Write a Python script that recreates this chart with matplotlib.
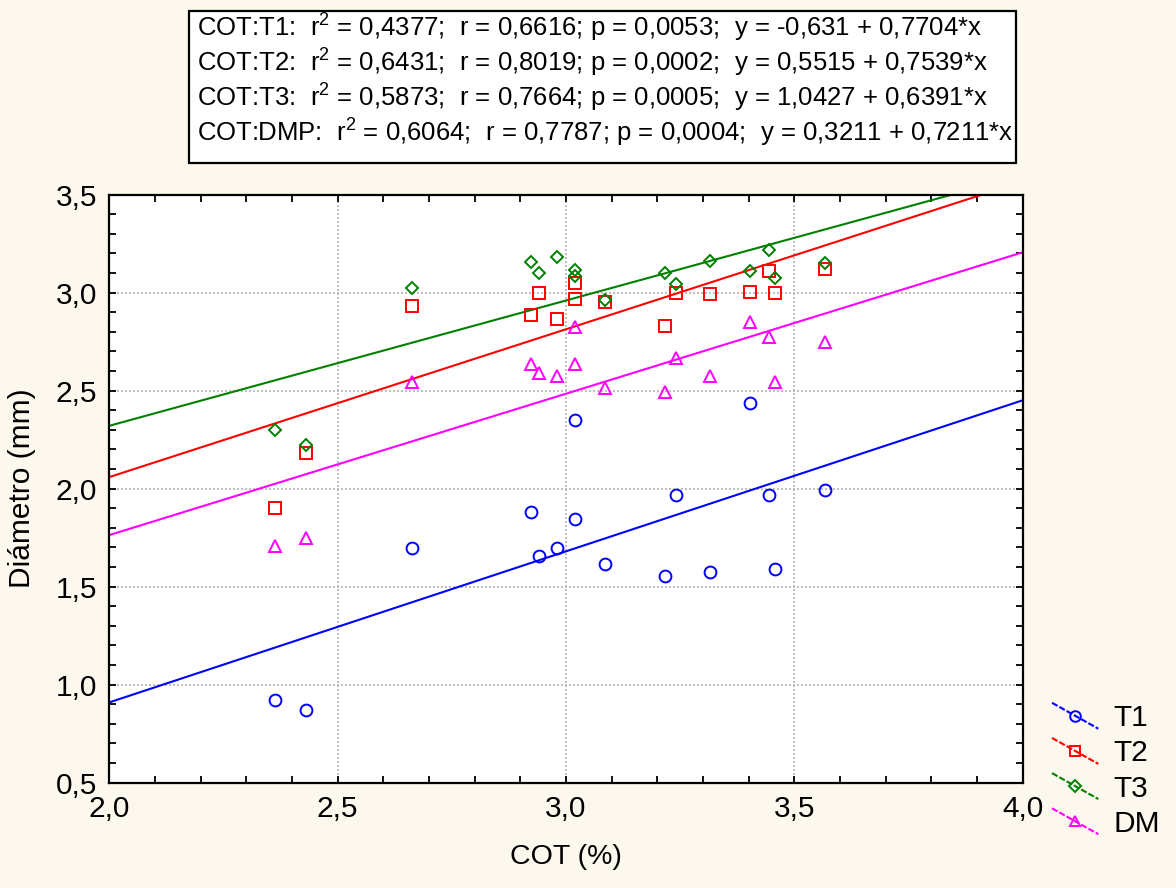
import numpy as np
import matplotlib
matplotlib.use("Agg")
import matplotlib.pyplot as plt
from matplotlib.lines import Line2D
from matplotlib.patches import Rectangle
from matplotlib.legend_handler import HandlerLine2D
from matplotlib.ticker import MultipleLocator, FuncFormatter

plt.rcParams["font.family"] = ["Liberation Sans", "DejaVu Sans"]
plt.rcParams["mathtext.fontset"] = "custom"
plt.rcParams["mathtext.rm"] = "Liberation Sans"

# --- data ---
cot = [2.362, 2.43, 2.662, 2.923, 2.942, 2.98, 3.02, 3.02,
       3.085, 3.217, 3.242, 3.315, 3.404, 3.444, 3.458, 3.567]
t1 = [0.922, 0.871, 1.696, 1.883, 1.657, 1.696, 2.35, 1.845,
      1.616, 1.555, 1.966, 1.573, 2.436, 1.966, 1.59, 1.993]
t2 = [1.90, 2.181, 2.934, 2.886, 2.997, 2.864, 3.048, 2.966,
      2.954, 2.832, 2.997, 2.992, 3.005, 3.111, 2.997, 3.119]
t3 = [2.30, 2.223, 3.025, 3.158, 3.099, 3.184, 3.116, 3.085,
      2.963, 3.10, 3.044, 3.163, 3.111, 3.218, 3.073, 3.153]
dm = [1.708, 1.747, 2.546, 2.636, 2.589, 2.575, 2.823, 2.636,
      2.512, 2.495, 2.665, 2.575, 2.849, 2.773, 2.546, 2.75]

labels = ["T1", "T2", "T3", "DM"]
intercepts = [-0.631, 0.5515, 1.0427, 0.3211]
slopes = [0.7704, 0.7539, 0.6391, 0.7211]
stats_lines = [
    r"COT:T1:  r$^{\mathrm{2}}$ = 0,4377;  r = 0,6616; p = 0,0053;  y = -0,631 + 0,7704*x",
    r"COT:T2:  r$^{\mathrm{2}}$ = 0,6431;  r = 0,8019; p = 0,0002;  y = 0,5515 + 0,7539*x",
    r"COT:T3:  r$^{\mathrm{2}}$ = 0,5873;  r = 0,7664; p = 0,0005;  y = 1,0427 + 0,6391*x",
    r"COT:DMP:  r$^{\mathrm{2}}$ = 0,6064;  r = 0,7787; p = 0,0004;  y = 0,3211 + 0,7211*x",
]

colors = ["#0000ff", "#ff0000", "#008000", "#ff00ff"]
markers = ["o", "s", "D", "^"]
msizes = [8.5, 8.5, 6.3, 8.5]
BG = "#fdf8ed"


class SlopedLine(HandlerLine2D):
    """legend handle drawn as a falling diagonal, like the original software"""
    def create_artists(self, legend, orig_handle, xdescent, ydescent,
                       width, height, fontsize, trans):
        arts = super().create_artists(legend, orig_handle, xdescent, ydescent,
                                      width, height, fontsize, trans)
        for a in arts:
            n = len(a.get_xdata())
            y0 = (height - ydescent) / 2
            a.set_ydata(y0 + np.linspace(height * 0.62, -height * 0.62, n))
        return arts


fig = plt.figure(figsize=(11.76, 8.88), dpi=100, facecolor=BG)
ax = fig.add_axes([0.0930, 0.1186, 0.7765, 0.6622])
ax.set_facecolor("white")

xl = np.array([2.0, 4.0])
handles = []
for ys, a, b, c, m, ms, lab in zip([t1, t2, t3, dm], intercepts, slopes,
                                   colors, markers, msizes, labels):
    ax.plot(xl, a + b * xl, color=c, lw=1.5, zorder=2)
    ax.plot(cot, ys, ls="none", marker=m, ms=ms, mfc="none", mec=c, mew=1.4, zorder=3)
    handles.append(Line2D([], [], color=c, lw=1.5, ls=(0, (3, 1)), marker=m, ms=ms * 0.9,
                          mfc="none", mec=c, mew=1.4))

ax.set_xlim(2.0, 4.0)
ax.set_ylim(0.5, 3.5)
ax.xaxis.set_major_locator(MultipleLocator(0.5))
ax.xaxis.set_minor_locator(MultipleLocator(0.1))
ax.yaxis.set_major_locator(MultipleLocator(0.5))
ax.yaxis.set_minor_locator(MultipleLocator(0.1))
comma = FuncFormatter(lambda v, p: f"{v:.1f}".replace(".", ","))
ax.xaxis.set_major_formatter(comma)
ax.yaxis.set_major_formatter(comma)
ax.tick_params(which="both", direction="in", top=True, right=True,
               length=5, width=1.3, labelsize=21.5, colors="black")
ax.tick_params(axis="x", pad=9)
ax.tick_params(axis="y", pad=9)
for s in ax.spines.values():
    s.set_linewidth(1.6)
ax.grid(True, which="major", color="#b4b4b4", ls=(0, (1.2, 1.2)), lw=1.2)
ax.set_axisbelow(True)

ax.set_xlabel("COT (%)", fontsize=20.5)
ax.xaxis.set_label_coords(0.5, -0.104)
ax.set_ylabel("Diámetro (mm)", fontsize=21.5)
ax.yaxis.set_label_coords(-0.080, 0.5)

fig.legend(handles, labels, loc="center left", bbox_to_anchor=(0.8946, 0.1318),
           frameon=False, fontsize=21.5, handlelength=1.55, handletextpad=0.5,
           labelspacing=0.24, borderpad=0, borderaxespad=0, numpoints=1,
           handler_map={Line2D: SlopedLine()})

# regression summary box
fig.add_artist(Rectangle((189 / 1176, 1 - 163 / 888), (1016 - 189) / 1176, 152 / 888,
                         transform=fig.transFigure, facecolor="white",
                         edgecolor="black", lw=1.6))
for i, txt in enumerate(stats_lines):
    fig.text(197 / 1176, 1 - (36 + 35 * i) / 888, txt, fontsize=18.5,
             ha="left", va="baseline")

fig.savefig("out.png", dpi=100, facecolor=BG)
